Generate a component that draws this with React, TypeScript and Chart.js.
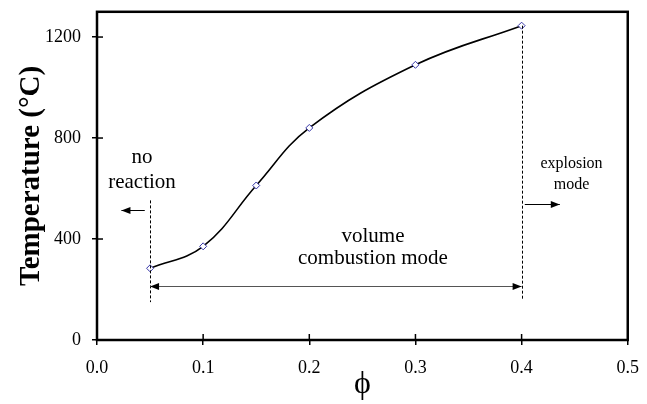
import React, { useEffect, useRef } from "react";
import { Chart, registerables } from "chart.js";

Chart.register(...registerables);

const phiValues = [0.05, 0.1, 0.15, 0.2, 0.3, 0.4];
const temperatureValues = [284, 371, 612, 840, 1090, 1245];
const xTickValues = [0, 0.1, 0.2, 0.3, 0.4, 0.5];
const yTickValues = [0, 400, 800, 1200];
const xAxisTitle = "ϕ";
const yAxisTitle = "Temperature (°C)";

// regime boundaries (phi, temperature range)
const boundaryPhi = [0.05, 0.4];
const boundaryLow = [150, 160];
const boundaryHigh = [553, 1245];

// arrows: start phi, end phi, temperature, double-headed?
const arrowStart = [0.045, 0.05, 0.403];
const arrowEnd = [0.023, 0.4, 0.436];
const arrowTemp = [515, 213, 540];
const arrowDouble = [false, true, false];

// regime labels
const regimeLines = [["no", "reaction"], ["volume", "combustion mode"], ["explosion", "mode"]];
const regimePhi = [0.0424, 0.26, 0.447];
const regimeTemps = [[722, 624], [411, 324], [699, 616]];
const regimeFontSize = [21, 21, 16];

const FONT = "'Liberation Serif', 'Times New Roman', 'DejaVu Serif', serif";

const decorPlugin = {
  id: "decor",
  afterDatasetsDraw(chart: any) {
    const { ctx, chartArea, scales } = chart;
    const xs = scales.x;
    const ys = scales.y;
    ctx.save();

    // dashed boundary lines
    ctx.strokeStyle = "#000";
    ctx.lineWidth = 1;
    ctx.setLineDash([3, 2]);
    boundaryPhi.forEach((p, i) => {
      const x = Math.round(xs.getPixelForValue(p)) + 0.5;
      ctx.beginPath();
      ctx.moveTo(x, ys.getPixelForValue(boundaryHigh[i]));
      ctx.lineTo(x, ys.getPixelForValue(boundaryLow[i]));
      ctx.stroke();
    });
    ctx.setLineDash([]);

    // arrows
    const head = (tx: number, ty: number, dir: number) => {
      ctx.beginPath();
      ctx.moveTo(tx, ty);
      ctx.lineTo(tx - dir * 9, ty - 3.5);
      ctx.lineTo(tx - dir * 9, ty + 3.5);
      ctx.closePath();
      ctx.fill();
    };
    ctx.fillStyle = "#000";
    arrowStart.forEach((s, i) => {
      const x0 = xs.getPixelForValue(s);
      const x1 = xs.getPixelForValue(arrowEnd[i]);
      const y = Math.round(ys.getPixelForValue(arrowTemp[i])) + 0.5;
      ctx.strokeStyle = arrowDouble[i] ? "#555" : "#000";
      ctx.lineWidth = 1;
      ctx.beginPath();
      ctx.moveTo(x0, y);
      ctx.lineTo(x1, y);
      ctx.stroke();
      const dir = x1 > x0 ? 1 : -1;
      head(x1, y, dir);
      if (arrowDouble[i]) head(x0, y, -dir);
    });

    // regime labels
    ctx.fillStyle = "#000";
    ctx.textAlign = "center";
    ctx.textBaseline = "middle";
    regimeLines.forEach((lines, i) => {
      ctx.font = `${regimeFontSize[i]}px ${FONT}`;
      lines.forEach((t, j) => {
        ctx.fillText(t, xs.getPixelForValue(regimePhi[i]), ys.getPixelForValue(regimeTemps[i][j]));
      });
    });

    // frame
    ctx.strokeStyle = "#000";
    ctx.lineWidth = 2.5;
    ctx.strokeRect(chartArea.left, chartArea.top, chartArea.right - chartArea.left, chartArea.bottom - chartArea.top);

    // inner tick halves
    ctx.lineWidth = 1.5;
    yTickValues.forEach((v) => {
      const y = ys.getPixelForValue(v);
      ctx.beginPath();
      ctx.moveTo(chartArea.left, y);
      ctx.lineTo(chartArea.left + 6, y);
      ctx.stroke();
    });
    xTickValues.forEach((v) => {
      const x = xs.getPixelForValue(v);
      ctx.beginPath();
      ctx.moveTo(x, chartArea.bottom);
      ctx.lineTo(x, chartArea.bottom - 6);
      ctx.stroke();
    });
    ctx.restore();
  },
};

export default function App() {
  const ref = useRef<HTMLCanvasElement | null>(null);
  useEffect(() => {
    if (!ref.current) return;
    const chart = new Chart(ref.current, {
      type: "line",
      data: {
        datasets: [
          {
            data: phiValues.map((p, i) => ({ x: p, y: temperatureValues[i] })),
            borderColor: "#000",
            borderWidth: 1.6,
            tension: 0.4,
            pointStyle: "rectRot",
            pointRadius: 3.5,
            pointBorderColor: "#3636a8",
            pointBackgroundColor: "#fff",
            pointBorderWidth: 1,
            fill: false,
          },
        ],
      },
      options: {
        animation: false,
        responsive: true,
        maintainAspectRatio: false,
        layout: { padding: { top: 0, right: 15, left: 0, bottom: 0 } },
        plugins: { legend: { display: false }, tooltip: { enabled: false } },
        scales: {
          x: {
            type: "linear",
            min: 0,
            max: 0.5,
            afterFit: (s: any) => {
              s.height = 64;
            },
            afterBuildTicks: (s: any) => {
              s.ticks = xTickValues.map((v) => ({ value: v }));
            },
            ticks: {
              callback: (v: any) => Number(v).toFixed(1),
              color: "#000",
              font: { family: FONT, size: 18 },
              padding: 12,
              maxRotation: 0,
            },
            grid: { display: true, drawOnChartArea: false, drawTicks: true, tickLength: 5, color: "#000", lineWidth: 1.5 },
            border: { display: false },
            title: {
              display: true,
              text: xAxisTitle,
              color: "#000",
              font: { family: FONT, size: 32 },
              padding: { top: 0, bottom: 0 },
            },
          },
          y: {
            type: "linear",
            min: 0,
            max: 1300,
            afterFit: (s: any) => {
              s.width = 97;
            },
            afterBuildTicks: (s: any) => {
              s.ticks = yTickValues.map((v) => ({ value: v }));
            },
            ticks: {
              callback: (v: any) => String(v),
              color: "#000",
              font: { family: FONT, size: 18 },
              padding: 11,
            },
            grid: { display: true, drawOnChartArea: false, drawTicks: true, tickLength: 5, color: "#000", lineWidth: 1.5 },
            border: { display: false },
            title: {
              display: true,
              text: yAxisTitle,
              color: "#000",
              font: { family: FONT, size: 29, weight: "bold" },
              padding: { top: 14, bottom: 0 },
            },
          },
        },
      },
      plugins: [decorPlugin],
    });
    return () => chart.destroy();
  }, []);
  return (
    <div style={{ position: "fixed", left: 0, top: -10, width: 651, height: 414, background: "#fff" }}>
      <canvas ref={ref} />
    </div>
  );
}
